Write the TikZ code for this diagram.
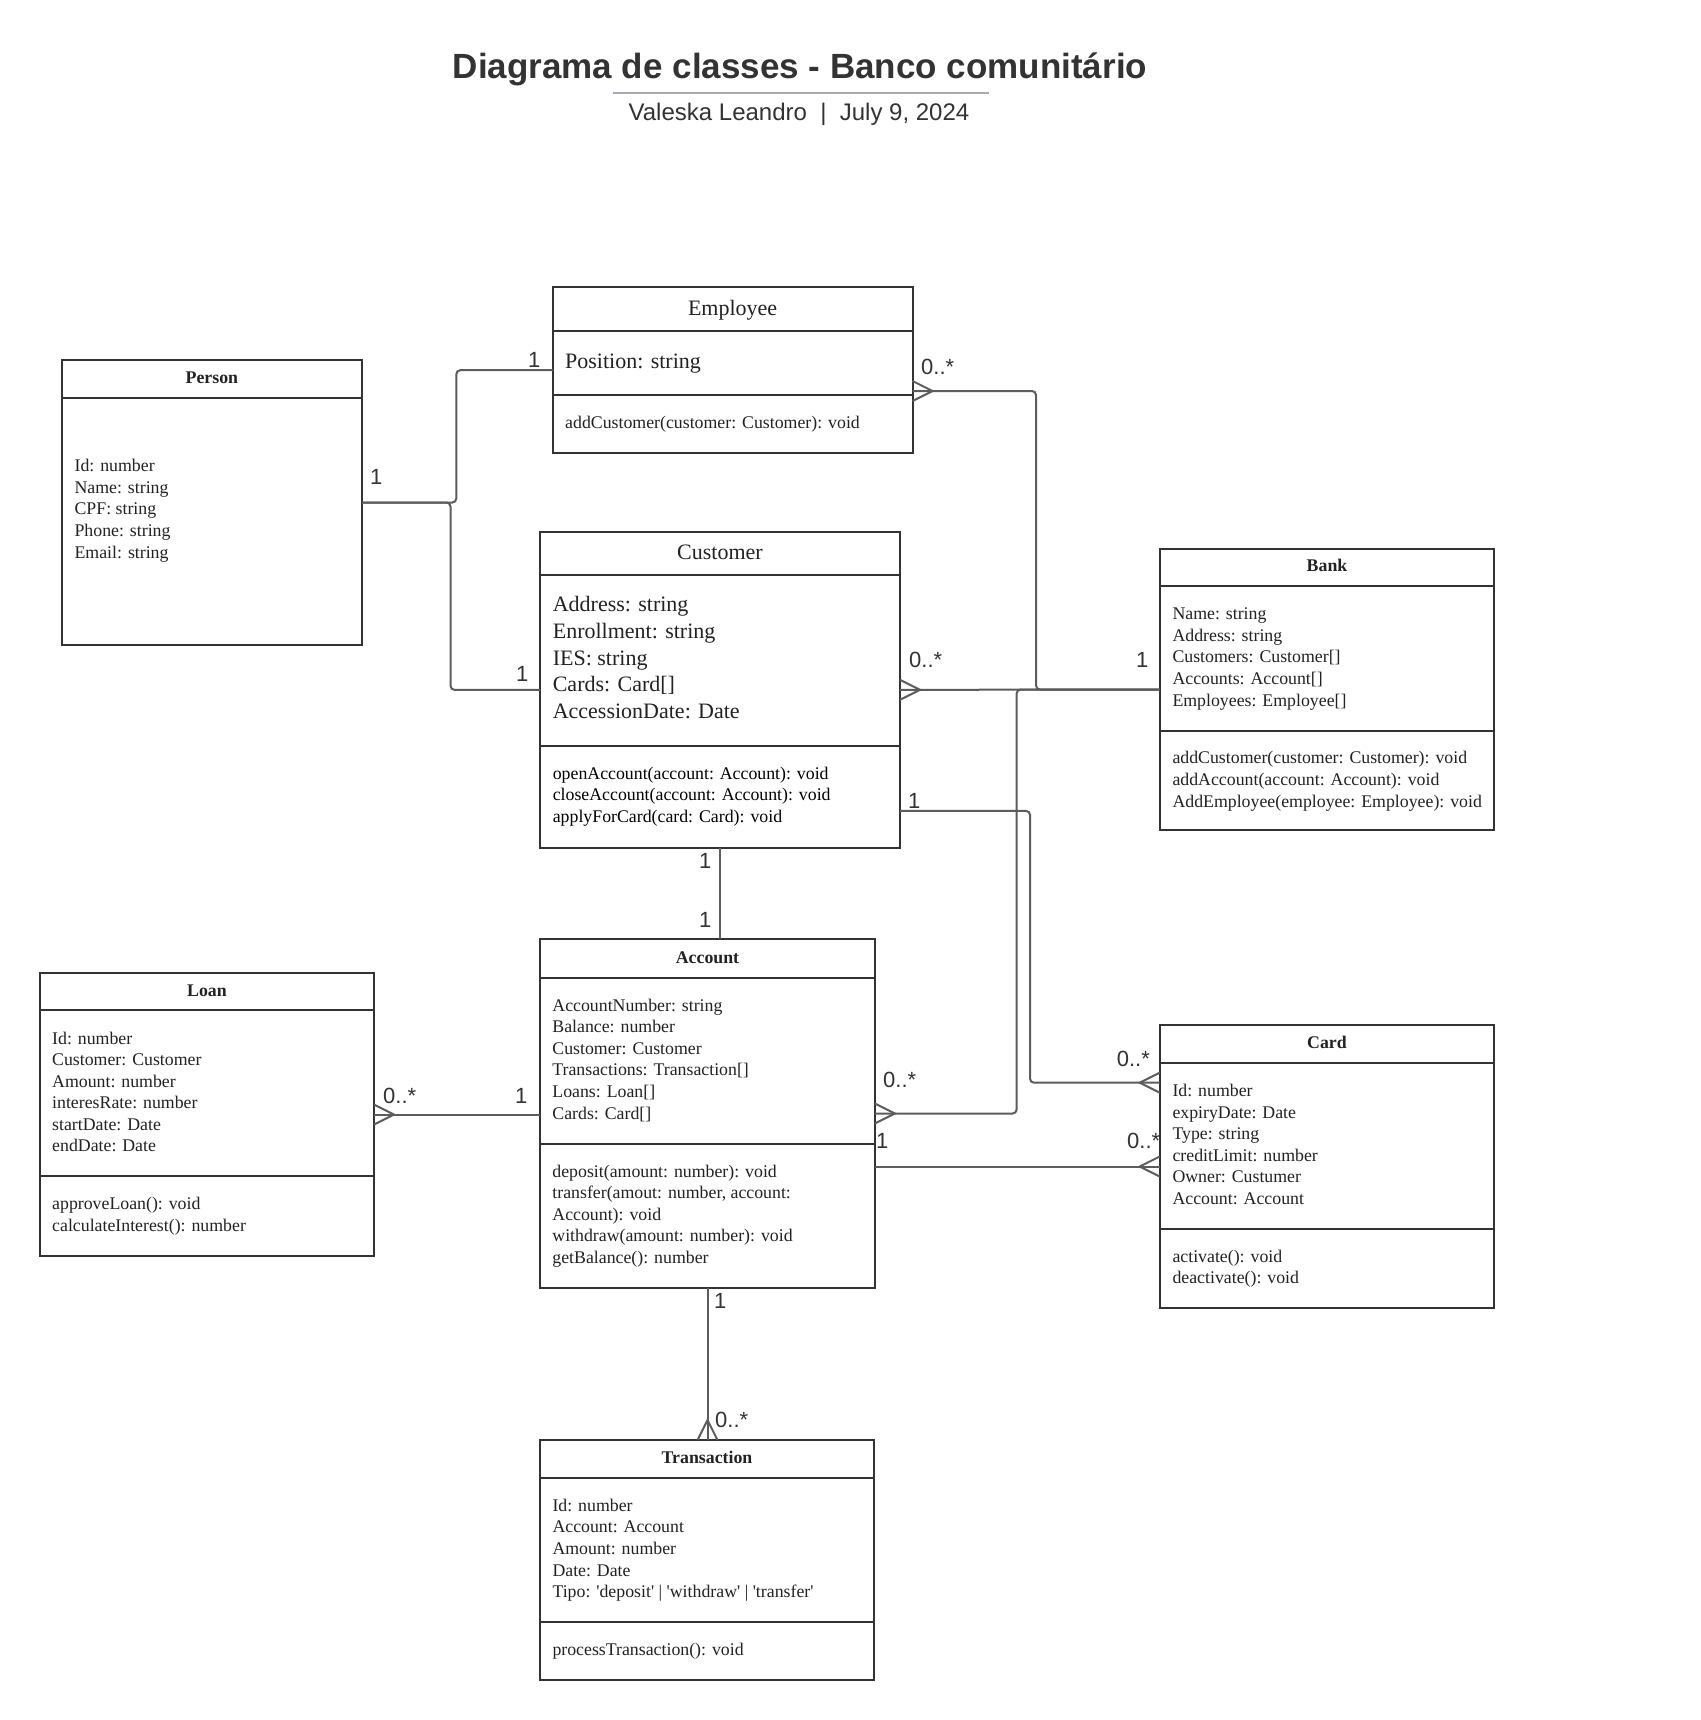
\documentclass[tikz,border=0pt]{standalone}
\usepackage{fontspec}
\setmainfont{Liberation Serif}
\newfontfamily\labelfont{Liberation Sans}
\usetikzlibrary{calc}
\definecolor{boxc}{HTML}{333333}
\definecolor{connc}{HTML}{5C5C5C}
\definecolor{txtc}{HTML}{222222}
\definecolor{rulec}{HTML}{A6AAB2}
\newcommand{\myfs}[1]{\fontsize{#1}{#1}\selectfont}
\newcommand{\cfright}[1]{\draw[conn] ($(#1)+(0,-10)$) -- ($(#1)+(20,0)$) -- ($(#1)+(0,10)$);}
\newcommand{\cfleft}[1]{\draw[conn] ($(#1)+(0,-10)$) -- ($(#1)+(-20,0)$) -- ($(#1)+(0,10)$);}
\newcommand{\cfup}[1]{\draw[conn] ($(#1)+(-10,0)$) -- ($(#1)+(0,-20)$) -- ($(#1)+(10,0)$);}
\begin{document}
\begin{tikzpicture}[x=1pt,y=-1pt,
 classbox/.style={draw=boxc, line width=2pt, anchor=north west, inner sep=0pt, outer sep=0pt},
 divider/.style={draw=boxc, line width=2pt},
 conn/.style={draw=connc, line width=2pt},
 ctitle/.style={anchor=base, inner sep=0pt, text=txtc, font=\myfs{17.8}\bfseries},
 ctitlebig/.style={anchor=base, inner sep=0pt, text=txtc, font=\myfs{22}},
 attr/.style={anchor=base west, inner sep=0pt, text=txtc, font=\myfs{17.8}},
 attrbig/.style={anchor=base west, inner sep=0pt, text=txtc, font=\myfs{22}},
 mult/.style={anchor=base west, inner sep=0pt, text=boxc, font=\labelfont\myfs{22}},
 rounded/.style={rounded corners=4pt}
]
\fill[white] (0,0) rectangle (1700,1720);
\useasboundingbox (0,0) rectangle (1700,1720);

% ---------- title ----------
\node[anchor=base, inner sep=0pt, text=boxc, font=\labelfont\bfseries\myfs{35}] (title) at (800,78.3) {Diagrama de classes - Banco comunitário};
\draw[rulec, line width=2pt] (613,92.7) -- (989,92.7);
\node[anchor=base, inner sep=0pt, text=boxc, font=\labelfont\myfs{24}] (subtitle) at (799,120.7) {Valeska Leandro~~|~~July 9, 2024};

% ---------- Person ----------
\node[classbox, minimum width=300.2pt, minimum height=285pt] (person) at (61.8,360) {};
\draw[divider] (person.west |- 0,397.7) -- (person.east |- 0,397.7);
\node[ctitle] (persont) at (211.9,383.7) {Person};
\foreach \t [count=\i] in {Id: number, Name: string, CPF: string, Phone: string, Email: string}
  \node[attr] (pa\i) at (74.4,{471.7+21.6*(\i-1)}) {\t};

% ---------- Employee ----------
\node[classbox, minimum width=359.7pt, minimum height=165.6pt] (employee) at (552.8,287.4) {};
\draw[divider] (employee.west |- 0,330.7) -- (employee.east |- 0,330.7);
\draw[divider] (employee.west |- 0,394.8) -- (employee.east |- 0,394.8);
\node[ctitlebig] (employeet) at (732.6,315.2) {Employee};
\node[attrbig] (ea1) at (565,368.2) {Position: string};
\node[attr] (em1) at (565,428.7) {addCustomer(customer: Customer): void};

% ---------- Customer ----------
\node[classbox, minimum width=360pt, minimum height=315.7pt] (customer) at (540,532) {};
\draw[divider] (customer.west |- 0,575) -- (customer.east |- 0,575);
\draw[divider] (customer.west |- 0,746.3) -- (customer.east |- 0,746.3);
\node[ctitlebig] (customert) at (720,559.2) {Customer};
\foreach \t [count=\i] in {Address: string, Enrollment: string, IES: string, Cards: Card[], AccessionDate: Date}
  \node[attrbig] (ca\i) at (552.6,{611.8+26.7*(\i-1)}) {\t};
\foreach \t [count=\i] in {openAccount(account: Account): void, closeAccount(account: Account): void, applyForCard(card: Card): void}
  \node[attr, text=black] (cm\i) at (552.6,{779.3+21.5*(\i-1)}) {\t};

% ---------- Bank ----------
\node[classbox, minimum width=334.6pt, minimum height=281pt] (bank) at (1159.7,549) {};
\draw[divider] (bank.west |- 0,586) -- (bank.east |- 0,586);
\draw[divider] (bank.west |- 0,731) -- (bank.east |- 0,731);
\node[ctitle] (bankt) at (1327,571.7) {Bank};
\foreach \t [count=\i] in {Name: string, Address: string, Customers: Customer[], Accounts: Account[], Employees: Employee[]}
  \node[attr] (ba\i) at (1172.3,{619.3+21.7*(\i-1)}) {\t};
\foreach \t [count=\i] in {addCustomer(customer: Customer): void, addAccount(account: Account): void, AddEmployee(employee: Employee): void}
  \node[attr] (bm\i) at (1172.3,{763.7+21.65*(\i-1)}) {\t};

% ---------- Account ----------
\node[classbox, minimum width=334.6pt, minimum height=348.4pt] (account) at (540.2,939.3) {};
\draw[divider] (account.west |- 0,977.7) -- (account.east |- 0,977.7);
\draw[divider] (account.west |- 0,1144) -- (account.east |- 0,1144);
\node[ctitle] (accountt) at (707.5,963.3) {Account};
\foreach \t [count=\i] in {AccountNumber: string, Balance: number, Customer: Customer, Transactions: Transaction[], Loans: Loan[], Cards: Card[]}
  \node[attr] (aa\i) at (552.2,{1011+21.66*(\i-1)}) {\t};
\foreach \t [count=\i] in {deposit(amount: number): void, {transfer(amout: number, account:}, Account): void, withdraw(amount: number): void, getBalance(): number}
  \node[attr] (am\i) at (552.2,{1177+21.6*(\i-1)}) {\t};

% ---------- Loan ----------
\node[classbox, minimum width=334.1pt, minimum height=283pt] (loan) at (39.9,973) {};
\draw[divider] (loan.west |- 0,1010) -- (loan.east |- 0,1010);
\draw[divider] (loan.west |- 0,1176) -- (loan.east |- 0,1176);
\node[ctitle] (loant) at (207,996) {Loan};
\foreach \t [count=\i] in {Id: number, Customer: Customer, Amount: number, interesRate: number, startDate: Date, endDate: Date}
  \node[attr] (la\i) at (52,{1044+21.5*(\i-1)}) {\t};
\foreach \t [count=\i] in {approveLoan(): void, calculateInterest(): number}
  \node[attr] (lm\i) at (52,{1209.3+22*(\i-1)}) {\t};

% ---------- Card ----------
\node[classbox, minimum width=334.6pt, minimum height=282.4pt] (card) at (1159.7,1025.3) {};
\draw[divider] (card.west |- 0,1062.7) -- (card.east |- 0,1062.7);
\draw[divider] (card.west |- 0,1229) -- (card.east |- 0,1229);
\node[ctitle] (cardt) at (1327,1048.3) {Card};
\foreach \t [count=\i] in {Id: number, expiryDate: Date, Type: string, creditLimit: number, Owner: Custumer, Account: Account}
  \node[attr] (ka\i) at (1172.3,{1096.7+21.5*(\i-1)}) {\t};
\foreach \t [count=\i] in {activate(): void, deactivate(): void}
  \node[attr] (km\i) at (1172.3,{1262+21.3*(\i-1)}) {\t};

% ---------- Transaction ----------
\node[classbox, minimum width=334pt, minimum height=239.7pt] (transaction) at (540,1440) {};
\draw[divider] (transaction.west |- 0,1478) -- (transaction.east |- 0,1478);
\draw[divider] (transaction.west |- 0,1622) -- (transaction.east |- 0,1622);
\node[ctitle] (transactiont) at (707,1463) {Transaction};
\foreach \t [count=\i] in {Id: number, Account: Account, Amount: number, Date: Date, {Tipo: \textquotesingle deposit\textquotesingle\ | \textquotesingle withdraw\textquotesingle\ | \textquotesingle transfer\textquotesingle}}
  \node[attr] (ta\i) at (552.3,{1511.3+21.6*(\i-1)}) {\t};
\node[attr] (tm1) at (552.3,1655.3) {processTransaction(): void};

% ---------- connectors ----------
\coordinate (empcf) at ($(employee.east)+(0,20.8)$);
\coordinate (custcard) at ($(customer.east)+(0,121)$);
\coordinate (cardcf) at ($(card.west)+(0,-83.8)$);
\coordinate (cardcf2) at (card.west -| card.west);
\coordinate (loancf) at (loan.east);
\coordinate (trancf) at (account.south |- transaction.north);

\draw[conn, rounded] (person.east) -| ($(employee.west)+(-96.5,0)$) -- (employee.west);
\draw[conn, rounded] (person.east) -| ($(customer.west)+(-89.5,0)$) -- (customer.west);
\draw[conn, rounded] (empcf) -| ($(bank.west)+(-123.7,0)$) -- (bank.west);
\draw[conn] (customer.east) -- (bank.west);
\draw[conn, rounded] (account.east) -| ($(bank.west)+(-143.1,0)$) -- (bank.west);
\draw[conn, rounded] (custcard) -| ($(cardcf)+(-129.7,0)$) -- (cardcf);
\draw[conn] (card.west -| account.east) -- (cardcf2);
\draw[conn] (loancf) -- (loan.east -| account.west);
\draw[conn] (customer.south) -- (customer.south |- account.north);
\draw[conn] (account.south) -- (trancf);

\cfright{empcf}
\cfright{customer.east}
\cfright{account.east}
\cfleft{cardcf}
\cfleft{cardcf2}
\cfright{loancf}
\cfup{trancf}

% ---------- multiplicities ----------
\node[mult] (m1) at (528,367.5) {1};
\node[mult] (m2) at (370,484.5) {1};
\node[mult] (m3) at (516,681.5) {1};
\node[mult] (m4) at (921,374.5) {0..*};
\node[mult] (m5) at (909,667.5) {0..*};
\node[mult] (m6) at (1136,667.5) {1};
\node[mult] (m7) at (908,808) {1};
\node[mult] (m8) at (1116.6,1066.8) {0..*};
\node[mult] (m9) at (883,1087.5) {0..*};
\node[mult] (m10) at (876,1148.2) {1};
\node[mult] (m11) at (1127,1148.2) {0..*};
\node[mult] (m12) at (699,868.5) {1};
\node[mult] (m13) at (699,927.5) {1};
\node[mult] (m14) at (383,1103.5) {0..*};
\node[mult] (m15) at (515,1103.5) {1};
\node[mult] (m16) at (714,1308.2) {1};
\node[mult] (m17) at (715,1427.5) {0..*};
\end{tikzpicture}
\end{document}
